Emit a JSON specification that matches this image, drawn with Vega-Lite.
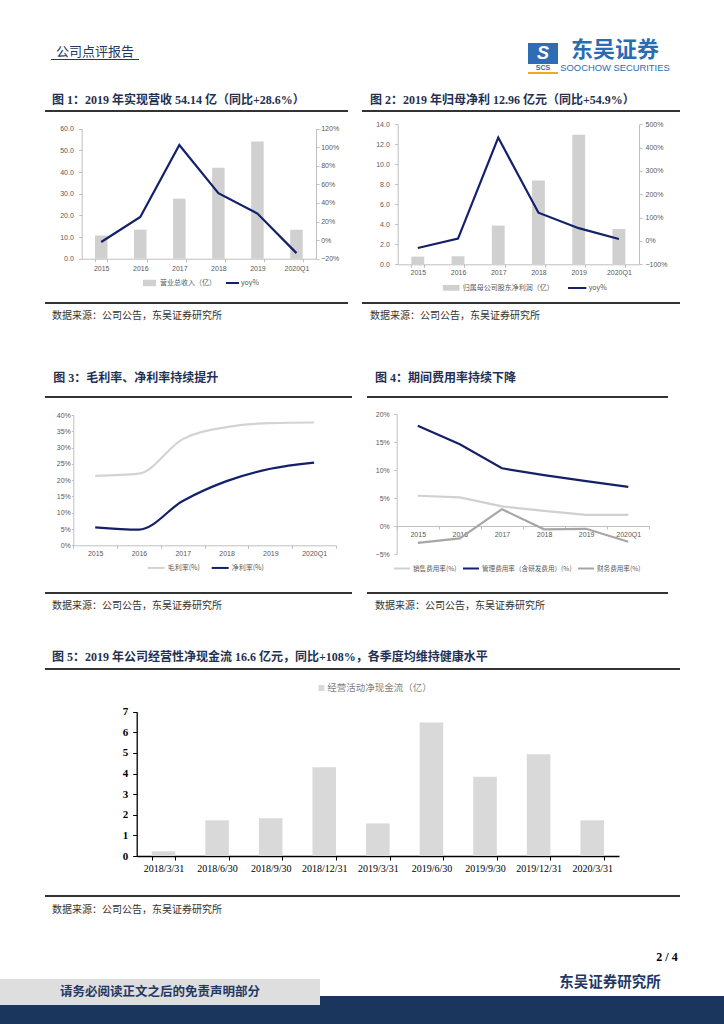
{
"$schema": "https://vega.github.io/schema/vega-lite/v6.json",
"padding": 0,
"background": "#ffffff",
"spacing": 0,
"resolve": {"scale": {"color": "independent", "stroke": "independent"}, "legend": {"color": "independent", "stroke": "independent"}},
"config": {
 "view": {"stroke": null},
 "concat": {"spacing": 0},
 "axis": {"minExtent": 0, "grid": false, "labelFont": "Liberation Sans", "labelFontSize": 7, "labelColor": "#595959", "domainColor": "#bfbfbf", "tickColor": "#bfbfbf", "tickSize": 3, "labelAngle": 0},
 "legend": {"padding": 0, "labelFont": "Noto Sans CJK SC", "labelFontSize": 7, "labelColor": "#595959"}
},
"vconcat": [
 {"spacing": 0, "hconcat": [
  {"width": 51, "height": 88, "data": {"values": []}, "mark": "text", "encoding": {"text": {"value": ""}}},
  {"spacing": 0, "vconcat": [
   {"width": 88, "height": 38, "data": {"values": []}, "mark": "text", "encoding": {"text": {"value": ""}}},
   {"width": 88, "height": 21, "data": {"values": [{"label": "公司点评报告"}]}, "mark": {"type": "text", "font": "Noto Sans CJK SC", "fontSize": 13, "color": "#1f3864", "dy": 3.5}, "encoding": {"text": {"field": "label", "type": "nominal"}}},
   {"width": 88, "height": 1, "view": {"fill": "#1f3864"}, "data": {"values": []}, "mark": "text", "encoding": {"text": {"value": ""}}},
   {"width": 88, "height": 28, "data": {"values": []}, "mark": "text", "encoding": {"text": {"value": ""}}}
  ]},
  {"width": 389, "height": 88, "data": {"values": []}, "mark": "text", "encoding": {"text": {"value": ""}}},
  {"spacing": 0, "vconcat": [
   {"width": 30, "height": 43, "data": {"values": []}, "mark": "text", "encoding": {"text": {"value": ""}}},
   {"width": 30, "height": 21, "view": {"fill": "#2e6cb5"}, "data": {"values": [{"label": "S"}]}, "mark": {"type": "text", "font": "Liberation Sans", "fontSize": 18, "fontWeight": "bold", "fontStyle": "italic", "color": "#ffffff"}, "encoding": {"text": {"field": "label", "type": "nominal"}}},
   {"width": 30, "height": 8, "data": {"values": [{"label": "SCS"}]}, "mark": {"type": "text", "font": "Liberation Sans", "fontSize": 7, "fontWeight": "bold", "color": "#2e6cb5"}, "encoding": {"text": {"field": "label", "type": "nominal"}}},
   {"width": 30, "height": 2, "view": {"fill": "#f5a623"}, "data": {"values": []}, "mark": "text", "encoding": {"text": {"value": ""}}},
   {"width": 30, "height": 14, "data": {"values": []}, "mark": "text", "encoding": {"text": {"value": ""}}}
  ]},
  {"spacing": 0, "vconcat": [
   {"width": 114, "height": 38, "data": {"values": []}, "mark": "text", "encoding": {"text": {"value": ""}}},
   {"width": 114, "height": 38, "data": {"values": [{"cn": "东吴证券", "en": "SOOCHOW SECURITIES"}]},
    "layer": [
     {"mark": {"type": "text", "font": "Noto Sans CJK SC", "fontSize": 22, "fontWeight": "bold", "color": "#2a6cb3", "dy": -7.5}, "encoding": {"text": {"field": "cn", "type": "nominal"}}},
     {"mark": {"type": "text", "font": "Liberation Sans", "fontSize": 9.4, "color": "#2a6cb3", "dy": 10.5}, "encoding": {"text": {"field": "en", "type": "nominal"}}}
    ]},
   {"width": 114, "height": 12, "data": {"values": []}, "mark": "text", "encoding": {"text": {"value": ""}}}
  ]},
  {"width": 52, "height": 88, "data": {"values": []}, "mark": "text", "encoding": {"text": {"value": ""}}}
 ]},
 {"spacing": 0,
  "resolve": {"scale": {"color": "independent", "stroke": "independent"}, "legend": {"color": "independent", "stroke": "independent"}},
  "hconcat": [
  {"width": 45, "height": 10, "data": {"values": []}, "mark": "text", "encoding": {"text": {"value": ""}}},
  {"spacing": 0, "vconcat": [
   {"width": 303, "height": 22, "data": {"values": [{"label": "图 1：2019 年实现营收 54.14 亿（同比+28.6%）"}]}, "mark": {"type": "text", "align": "left", "dx": -144.5, "dy": 1, "font": "Liberation Serif, Noto Sans CJK SC", "fontSize": 12, "fontWeight": "bold", "color": "#1f3052"}, "encoding": {"text": {"field": "label", "type": "nominal"}}},
   {"width": 303, "height": 2, "view": {"fill": "#333333"}, "data": {"values": []}, "mark": "text", "encoding": {"text": {"value": ""}}},
   {"width": 303, "height": 190,
    "data": {"values": [
     {"year": "2015", "revenue": 10.7, "yoy": -0.02},
     {"year": "2016", "revenue": 13.4, "yoy": 0.25},
     {"year": "2017", "revenue": 27.7, "yoy": 1.025},
     {"year": "2018", "revenue": 42.0, "yoy": 0.505},
     {"year": "2019", "revenue": 54.14, "yoy": 0.286},
     {"year": "2020Q1", "revenue": 13.4, "yoy": -0.14}
    ]},
    "layer": [
     {"mark": {"type": "bar"}, "encoding": {
      "x": {"field": "year", "type": "nominal", "sort": null, "scale": {"range": [36.7, 271], "paddingInner": 0.68, "paddingOuter": 0.34}, "axis": {"orient": "bottom", "offset": -43.3, "title": null, "tickBand": "extent", "labelPadding": 2.5}},
      "y": {"field": "revenue", "type": "quantitative", "scale": {"domain": [0, 60], "range": [146.7, 16.7], "nice": false}, "axis": {"orient": "left", "offset": -36.7, "title": null, "values": [0, 10, 20, 30, 40, 50, 60], "format": ".1f", "labelPadding": 5.4}},
      "color": {"datum": "营业总收入（亿）", "scale": {"range": ["#d0d0d0"]}, "legend": {"orient": "none", "legendX": 97, "legendY": 187.5, "title": null, "symbolType": "M-1,-0.5H1V0.5H-1Z", "symbolSize": 169, "labelOffset": 3}}
     }},
     {"mark": {"type": "line", "strokeWidth": 2.2}, "encoding": {
      "x": {"field": "year", "type": "nominal", "sort": null},
      "y": {"field": "yoy", "type": "quantitative", "scale": {"domain": [-0.2, 1.2], "range": [146.7, 16.7], "nice": false}, "axis": {"orient": "right", "offset": -32, "title": null, "values": [-0.2, 0, 0.2, 0.4, 0.6, 0.8, 1.0, 1.2], "format": ".0%", "labelPadding": 1.7}},
      "stroke": {"datum": "yoy%", "scale": {"range": ["#14206a"]}, "legend": {"orient": "none", "legendX": 180, "legendY": 187.5, "title": null, "symbolType": "stroke", "symbolSize": 169, "symbolStrokeWidth": 2, "labelOffset": 1}}
     }}
    ],
    "resolve": {"scale": {"y": "independent"}}
   },
   {"width": 303, "height": 2, "view": {"fill": "#333333"}, "data": {"values": []}, "mark": "text", "encoding": {"text": {"value": ""}}},
   {"width": 303, "height": 26, "data": {"values": [{"label": "数据来源：公司公告，东吴证券研究所"}]}, "mark": {"type": "text", "align": "left", "dx": -144.5, "dy": -1, "font": "Noto Sans CJK SC", "fontSize": 10, "color": "#333333"}, "encoding": {"text": {"field": "label", "type": "nominal"}}},
   {"width": 303, "height": 35, "data": {"values": []}, "mark": "text", "encoding": {"text": {"value": ""}}}
  ]},
  {"width": 14, "height": 10, "data": {"values": []}, "mark": "text", "encoding": {"text": {"value": ""}}},
  {"spacing": 0, "vconcat": [
   {"width": 318, "height": 22, "data": {"values": [{"label": "图 2：2019 年归母净利 12.96 亿元（同比+54.9%）"}]}, "mark": {"type": "text", "align": "left", "dx": -151, "dy": 1, "font": "Liberation Serif, Noto Sans CJK SC", "fontSize": 12, "fontWeight": "bold", "color": "#1f3052"}, "encoding": {"text": {"field": "label", "type": "nominal"}}},
   {"width": 318, "height": 2, "view": {"fill": "#333333"}, "data": {"values": []}, "mark": "text", "encoding": {"text": {"value": ""}}},
   {"width": 318, "height": 190,
    "data": {"values": [
     {"year": "2015", "profit": 0.77, "yoy": -0.30},
     {"year": "2016", "profit": 0.80, "yoy": 0.10},
     {"year": "2017", "profit": 3.87, "yoy": 4.43},
     {"year": "2018", "profit": 8.37, "yoy": 1.21},
     {"year": "2019", "profit": 12.96, "yoy": 0.549},
     {"year": "2020Q1", "profit": 3.53, "yoy": 0.086}
    ]},
    "layer": [
     {"mark": {"type": "bar"}, "encoding": {
      "x": {"field": "year", "type": "nominal", "sort": null, "scale": {"range": [35.7, 277], "paddingInner": 0.68, "paddingOuter": 0.34}, "axis": {"orient": "bottom", "offset": -37.7, "title": null, "tickBand": "extent", "labelPadding": 1.2}},
      "y": {"field": "profit", "type": "quantitative", "scale": {"domain": [0, 14], "range": [152.3, 12.3], "nice": false}, "axis": {"orient": "left", "offset": -35.7, "title": null, "values": [0, 2, 4, 6, 8, 10, 12, 14], "format": ".1f", "labelPadding": 5.4}},
      "color": {"datum": "归属母公司股东净利润（亿）", "scale": {"range": ["#d0d0d0"]}, "legend": {"orient": "none", "legendX": 79.7, "legendY": 190.3, "title": null, "symbolType": "M-1,-0.35H1V0.35H-1Z", "symbolSize": 279, "labelOffset": 2}}
     }},
     {"mark": {"type": "line", "strokeWidth": 2.2}, "encoding": {
      "x": {"field": "year", "type": "nominal", "sort": null},
      "y": {"field": "yoy", "type": "quantitative", "scale": {"domain": [-1, 5], "range": [152.3, 12.3], "nice": false}, "axis": {"orient": "right", "offset": -41, "title": null, "values": [-1, 0, 1, 2, 3, 4, 5], "format": ".0%", "labelPadding": 3}},
      "stroke": {"datum": "yoy%", "scale": {"range": ["#14206a"]}, "legend": {"orient": "none", "legendX": 204.7, "legendY": 189.5, "title": null, "symbolType": "stroke", "symbolSize": 335, "symbolStrokeWidth": 2, "labelOffset": 1}}
     }}
    ],
    "resolve": {"scale": {"y": "independent"}}
   },
   {"width": 318, "height": 2, "view": {"fill": "#333333"}, "data": {"values": []}, "mark": "text", "encoding": {"text": {"value": ""}}},
   {"width": 318, "height": 26, "data": {"values": [{"label": "数据来源：公司公告，东吴证券研究所"}]}, "mark": {"type": "text", "align": "left", "dx": -151, "dy": -1, "font": "Noto Sans CJK SC", "fontSize": 10, "color": "#333333"}, "encoding": {"text": {"field": "label", "type": "nominal"}}},
   {"width": 318, "height": 35, "data": {"values": []}, "mark": "text", "encoding": {"text": {"value": ""}}}
  ]},
  {"width": 44, "height": 10, "data": {"values": []}, "mark": "text", "encoding": {"text": {"value": ""}}}
 ]},
 {"spacing": 0,
  "resolve": {"scale": {"color": "independent", "stroke": "independent"}, "legend": {"color": "independent", "stroke": "independent"}},
  "hconcat": [
  {"width": 45, "height": 10, "data": {"values": []}, "mark": "text", "encoding": {"text": {"value": ""}}},
  {"spacing": 0, "vconcat": [
   {"width": 307, "height": 31, "data": {"values": [{"label": "图 3：毛利率、净利率持续提升"}]}, "mark": {"type": "text", "align": "left", "dx": -145.2, "dy": -2.2, "font": "Liberation Serif, Noto Sans CJK SC", "fontSize": 12, "fontWeight": "bold", "color": "#1f3052"}, "encoding": {"text": {"field": "label", "type": "nominal"}}},
   {"width": 307, "height": 2, "view": {"fill": "#333333"}, "data": {"values": []}, "mark": "text", "encoding": {"text": {"value": ""}}},
   {"width": 307, "height": 194,
    "data": {"values": [
     {"year": "2015", "series": "毛利率(%)", "value": 0.213},
     {"year": "2016", "series": "毛利率(%)", "value": 0.220},
     {"year": "2017", "series": "毛利率(%)", "value": 0.326},
     {"year": "2018", "series": "毛利率(%)", "value": 0.363},
     {"year": "2019", "series": "毛利率(%)", "value": 0.375},
     {"year": "2020Q1", "series": "毛利率(%)", "value": 0.377},
     {"year": "2015", "series": "净利率(%)", "value": 0.055},
     {"year": "2016", "series": "净利率(%)", "value": 0.048},
     {"year": "2017", "series": "净利率(%)", "value": 0.136},
     {"year": "2018", "series": "净利率(%)", "value": 0.197},
     {"year": "2019", "series": "净利率(%)", "value": 0.235},
     {"year": "2020Q1", "series": "净利率(%)", "value": 0.254}
    ]},
    "mark": {"type": "line", "strokeWidth": 2.2, "interpolate": "monotone"},
    "encoding": {
     "x": {"field": "year", "type": "nominal", "sort": null, "scale": {"type": "band", "range": [28.3, 291], "paddingInner": 0, "paddingOuter": 0}, "axis": {"orient": "bottom", "offset": -46.7, "title": null, "tickBand": "extent", "labelPadding": 1.5}},
     "y": {"field": "value", "type": "quantitative", "scale": {"domain": [0, 0.4], "range": [147.3, 17], "nice": false}, "axis": {"orient": "left", "offset": -28.3, "title": null, "values": [0, 0.05, 0.1, 0.15, 0.2, 0.25, 0.3, 0.35, 0.4], "format": ".0%", "tickSize": 2, "labelPadding": 1}},
     "color": {"field": "series", "type": "nominal", "scale": {"domain": ["毛利率(%)", "净利率(%)"], "range": ["#d3d3d3", "#14206a"]}, "legend": {"orient": "none", "direction": "horizontal", "legendX": 101.7, "legendY": 193.2, "title": null, "symbolType": "stroke", "symbolSize": 289, "symbolStrokeWidth": 2, "labelOffset": 2, "columnPadding": 7}}
    }
   },
   {"width": 307, "height": 2, "view": {"fill": "#333333"}, "data": {"values": []}, "mark": "text", "encoding": {"text": {"value": ""}}},
   {"width": 307, "height": 26, "data": {"values": [{"label": "数据来源：公司公告，东吴证券研究所"}]}, "mark": {"type": "text", "align": "left", "dx": -146.5, "dy": -1, "font": "Noto Sans CJK SC", "fontSize": 10, "color": "#333333"}, "encoding": {"text": {"field": "label", "type": "nominal"}}},
   {"width": 307, "height": 25, "data": {"values": []}, "mark": "text", "encoding": {"text": {"value": ""}}}
  ]},
  {"width": 15, "height": 10, "data": {"values": []}, "mark": "text", "encoding": {"text": {"value": ""}}},
  {"spacing": 0, "vconcat": [
   {"width": 301, "height": 31, "data": {"values": [{"label": "图 4：期间费用率持续下降"}]}, "mark": {"type": "text", "align": "left", "dx": -142.5, "dy": -2.2, "font": "Liberation Serif, Noto Sans CJK SC", "fontSize": 12, "fontWeight": "bold", "color": "#1f3052"}, "encoding": {"text": {"field": "label", "type": "nominal"}}},
   {"width": 301, "height": 2, "view": {"fill": "#333333"}, "data": {"values": []}, "mark": "text", "encoding": {"text": {"value": ""}}},
   {"width": 301, "height": 194,
    "data": {"values": [
     {"year": "2015", "series": "销售费用率(%)", "value": 0.054},
     {"year": "2016", "series": "销售费用率(%)", "value": 0.051},
     {"year": "2017", "series": "销售费用率(%)", "value": 0.035},
     {"year": "2018", "series": "销售费用率(%)", "value": 0.027},
     {"year": "2019", "series": "销售费用率(%)", "value": 0.020},
     {"year": "2020Q1", "series": "销售费用率(%)", "value": 0.020},
     {"year": "2015", "series": "管理费用率（含研发费用）(%)", "value": 0.179},
     {"year": "2016", "series": "管理费用率（含研发费用）(%)", "value": 0.146},
     {"year": "2017", "series": "管理费用率（含研发费用）(%)", "value": 0.103},
     {"year": "2018", "series": "管理费用率（含研发费用）(%)", "value": 0.091},
     {"year": "2019", "series": "管理费用率（含研发费用）(%)", "value": 0.080},
     {"year": "2020Q1", "series": "管理费用率（含研发费用）(%)", "value": 0.070},
     {"year": "2015", "series": "财务费用率(%)", "value": -0.030},
     {"year": "2016", "series": "财务费用率(%)", "value": -0.022},
     {"year": "2017", "series": "财务费用率(%)", "value": 0.030},
     {"year": "2018", "series": "财务费用率(%)", "value": -0.006},
     {"year": "2019", "series": "财务费用率(%)", "value": -0.005},
     {"year": "2020Q1", "series": "财务费用率(%)", "value": -0.028}
    ]},
    "mark": {"type": "line", "strokeWidth": 2.2},
    "encoding": {
     "x": {"field": "year", "type": "nominal", "sort": null, "scale": {"type": "band", "range": [29.7, 282.3], "paddingInner": 0, "paddingOuter": 0}, "axis": {"orient": "bottom", "offset": -66, "title": null, "tickBand": "extent", "labelPadding": 1.5}},
     "y": {"field": "value", "type": "quantitative", "scale": {"domain": [-0.05, 0.2], "range": [156, 16], "nice": false}, "axis": {"orient": "left", "offset": -29.7, "title": null, "values": [-0.05, 0, 0.05, 0.1, 0.15, 0.2], "format": ".0%", "labelPadding": 4.4}},
     "color": {"field": "series", "type": "nominal", "scale": {"domain": ["销售费用率(%)", "管理费用率（含研发费用）(%)", "财务费用率(%)"], "range": ["#d0d0d0", "#14206a", "#a6a6a6"]}, "legend": {"orient": "none", "direction": "horizontal", "legendX": 26, "legendY": 194.5, "title": null, "symbolType": "stroke", "symbolSize": 256, "symbolStrokeWidth": 2, "labelOffset": 2, "labelFontSize": 6.6, "columnPadding": 2}}
    }
   },
   {"width": 301, "height": 2, "view": {"fill": "#333333"}, "data": {"values": []}, "mark": "text", "encoding": {"text": {"value": ""}}},
   {"width": 301, "height": 26, "data": {"values": [{"label": "数据来源：公司公告，东吴证券研究所"}]}, "mark": {"type": "text", "align": "left", "dx": -142.5, "dy": -1, "font": "Noto Sans CJK SC", "fontSize": 10, "color": "#333333"}, "encoding": {"text": {"field": "label", "type": "nominal"}}},
   {"width": 301, "height": 25, "data": {"values": []}, "mark": "text", "encoding": {"text": {"value": ""}}}
  ]},
  {"width": 56, "height": 10, "data": {"values": []}, "mark": "text", "encoding": {"text": {"value": ""}}}
 ]},
 {"spacing": 0,
  "resolve": {"scale": {"color": "independent"}, "legend": {"color": "independent"}},
  "hconcat": [
  {"width": 45, "height": 10, "data": {"values": []}, "mark": "text", "encoding": {"text": {"value": ""}}},
  {"spacing": 0, "vconcat": [
   {"width": 635, "height": 23, "data": {"values": [{"label": "图 5：2019 年公司经营性净现金流 16.6 亿元，同比+108%，各季度均维持健康水平"}]}, "mark": {"type": "text", "align": "left", "dx": -310.5, "dy": 0.8, "font": "Liberation Serif, Noto Sans CJK SC", "fontSize": 12, "fontWeight": "bold", "color": "#1f3052"}, "encoding": {"text": {"field": "label", "type": "nominal"}}},
   {"width": 635, "height": 2, "view": {"fill": "#333333"}, "data": {"values": []}, "mark": "text", "encoding": {"text": {"value": ""}}},
   {"width": 635, "height": 225,
    "data": {"values": [
     {"date": "2018/3/31", "cash": 0.23},
     {"date": "2018/6/30", "cash": 1.73},
     {"date": "2018/9/30", "cash": 1.83},
     {"date": "2018/12/31", "cash": 4.31},
     {"date": "2019/3/31", "cash": 1.58},
     {"date": "2019/6/30", "cash": 6.48},
     {"date": "2019/9/30", "cash": 3.84},
     {"date": "2019/12/31", "cash": 4.94},
     {"date": "2020/3/31", "cash": 1.73}
    ]},
    "mark": {"type": "bar"},
    "encoding": {
     "x": {"field": "date", "type": "nominal", "sort": null, "scale": {"range": [91.7, 574], "paddingInner": 0.56, "paddingOuter": 0.28}, "axis": {"orient": "bottom", "offset": -39, "title": null, "labelFont": "Liberation Serif", "labelFontSize": 10, "labelColor": "#000000", "domainColor": "#000000", "domainWidth": 1.3, "tickColor": "#000000", "tickBand": "extent", "tickSize": 4, "labelPadding": 3}},
     "y": {"field": "cash", "type": "quantitative", "scale": {"domain": [0, 7], "range": [186, 41.7], "nice": false}, "axis": {"orient": "left", "offset": -91.7, "title": null, "values": [0, 1, 2, 3, 4, 5, 6, 7], "labelFont": "Liberation Serif", "labelFontSize": 11, "labelFontWeight": "bold", "labelColor": "#000000", "domainColor": "#000000", "domainWidth": 1.3, "tickColor": "#000000", "tickSize": 4, "labelPadding": 5}},
     "color": {"datum": "经营活动净现金流（亿）", "scale": {"range": ["#d9d9d9"]}, "legend": {"orient": "none", "legendX": 271.7, "legendY": 38.3, "title": null, "symbolType": "square", "symbolSize": 36, "labelOffset": 1, "labelFontSize": 9.5, "labelColor": "#7f7f7f"}}
    }
   },
   {"width": 635, "height": 2, "view": {"fill": "#333333"}, "data": {"values": []}, "mark": "text", "encoding": {"text": {"value": ""}}},
   {"width": 635, "height": 26, "data": {"values": [{"label": "数据来源：公司公告，东吴证券研究所"}]}, "mark": {"type": "text", "align": "left", "dx": -310.5, "dy": 0, "font": "Noto Sans CJK SC", "fontSize": 10, "color": "#333333"}, "encoding": {"text": {"field": "label", "type": "nominal"}}}
  ]},
  {"width": 44, "height": 10, "data": {"values": []}, "mark": "text", "encoding": {"text": {"value": ""}}}
 ]},
 {"spacing": 0, "hconcat": [
  {"width": 650, "height": 47, "data": {"values": []}, "mark": "text", "encoding": {"text": {"value": ""}}},
  {"width": 34, "height": 47, "data": {"values": [{"label": "2 / 4"}]}, "mark": {"type": "text", "font": "Liberation Serif", "fontSize": 12, "fontWeight": "bold", "color": "#000000", "dy": 10.5}, "encoding": {"text": {"field": "label", "type": "nominal"}}},
  {"width": 40, "height": 47, "data": {"values": []}, "mark": "text", "encoding": {"text": {"value": ""}}}
 ]},
 {"spacing": 0, "hconcat": [
  {"spacing": 0, "vconcat": [
   {"width": 320, "height": 9, "data": {"values": []}, "mark": "text", "encoding": {"text": {"value": ""}}},
   {"width": 320, "height": 26, "view": {"fill": "#dedede"}, "data": {"values": [{"label": "请务必阅读正文之后的免责声明部分"}]}, "mark": {"type": "text", "font": "Noto Sans CJK SC", "fontSize": 12.5, "fontWeight": "bold", "color": "#1f3864"}, "encoding": {"text": {"field": "label", "type": "nominal"}}}
  ]},
  {"spacing": 0, "vconcat": [
   {"width": 404, "height": 26, "data": {"values": [{"label": "东吴证券研究所"}]}, "mark": {"type": "text", "font": "Noto Sans CJK SC", "fontSize": 14.5, "fontWeight": "bold", "color": "#1f3864", "dx": 88}, "encoding": {"text": {"field": "label", "type": "nominal"}}},
   {"width": 404, "height": 9, "view": {"fill": "#1b365d"}, "data": {"values": []}, "mark": "text", "encoding": {"text": {"value": ""}}}
  ]}
 ]},
 {"width": 724, "height": 19, "view": {"fill": "#1b365d"}, "data": {"values": []}, "mark": "text", "encoding": {"text": {"value": ""}}}
]
}
